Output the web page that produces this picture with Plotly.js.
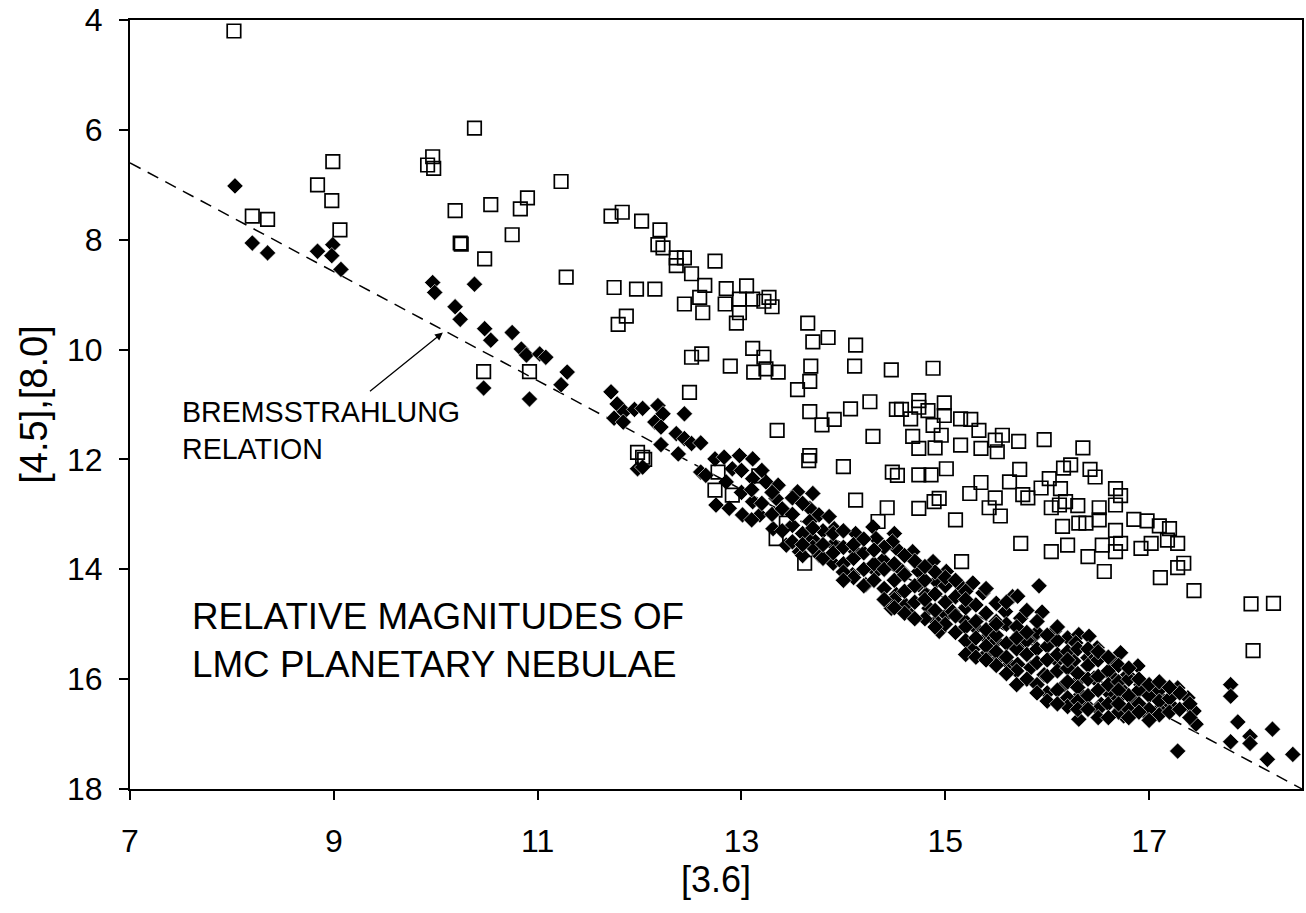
<!DOCTYPE html>
<html>
<head>
<meta charset="utf-8">
<script src="https://cdn.plot.ly/plotly-3.0.1.min.js"></script>
<style>html,body{margin:0;padding:0;background:#fff;}#chart{width:1306px;height:913px;}</style>
</head>
<body>
<div id="chart"></div>
<script>
// Open squares
const sqX = [8.02,8.99,8.84,8.98,8.2,8.35,9.06,10.38,9.97,9.92,9.98,11.23,10.19,10.54,10.83,10.9,10.75,10.24,10.25,10.48,11.28,11.72,11.83,12.02,12.2,12.18,12.23,12.36,12.44,12.36,12.51,12.74,11.75,11.97,12.15,11.87,11.79,12.64,12.59,12.44,12.62,12.51,12.61,12.49,10.47,10.92,11.98,12.03,12.05,12.74,12.77,12.85,13.05,12.84,12.98,12.98,12.95,13.11,13.22,13.27,13.3,13.65,13.7,13.85,14.12,13.11,13.22,12.89,13.12,13.24,13.36,13.68,13.67,13.55,14.11,14.47,14.88,13.67,13.79,13.91,14.07,14.26,13.35,14.29,13.67,13.66,14.0,14.48,14.53,14.52,14.57,14.66,14.74,14.74,14.83,14.88,14.99,14.99,14.68,14.74,14.9,14.96,15.15,15.15,15.25,15.33,15.35,15.49,15.51,15.56,14.74,14.86,15.01,15.24,15.35,15.63,14.89,14.94,14.74,14.43,14.34,14.12,15.1,15.43,15.49,15.54,13.44,12.91,13.17,15.72,15.97,16.35,15.73,16.23,16.16,16.42,16.47,16.02,15.94,16.13,16.67,16.72,15.76,15.81,16.04,16.12,16.18,16.3,16.51,16.67,16.51,16.38,16.31,16.15,16.67,16.85,16.98,17.1,17.2,15.74,16.04,16.2,16.4,16.56,16.54,16.67,16.72,16.92,17.02,17.18,17.28,17.11,17.28,17.34,17.44,18.0,18.22,18.02,15.16,13.62,13.34];
const sqY = [4.2,6.58,7.0,7.29,7.57,7.63,7.82,5.97,6.49,6.64,6.7,6.94,7.47,7.36,7.44,7.24,7.91,8.06,8.08,8.35,8.68,7.57,7.5,7.66,7.82,8.09,8.15,8.33,8.33,8.47,8.62,8.39,8.87,8.9,8.9,9.39,9.54,8.83,9.05,9.17,9.33,10.14,10.08,10.78,10.4,10.4,11.87,11.96,12.0,12.56,12.23,8.89,8.84,9.17,9.08,9.33,9.52,9.08,9.12,9.05,9.22,9.52,9.86,9.78,9.92,9.98,10.14,10.3,10.41,10.35,10.41,10.3,10.58,10.73,10.3,10.37,10.34,11.13,11.37,11.27,11.08,10.95,11.47,11.58,11.93,12.02,12.13,12.23,12.29,11.09,11.09,11.26,10.93,11.05,11.11,11.38,10.97,11.2,11.58,11.8,11.79,11.56,11.74,11.26,11.27,11.47,11.8,11.65,11.86,11.56,12.28,12.28,12.17,12.62,12.42,12.41,12.77,12.71,12.89,12.88,13.13,12.74,13.1,12.88,12.7,13.03,13.16,12.65,12.3,11.67,11.64,11.79,12.18,12.1,12.16,12.18,12.32,12.35,12.52,12.53,12.53,12.66,12.64,12.7,12.88,12.83,12.77,12.84,12.88,12.83,13.1,13.16,13.16,13.22,13.29,13.09,13.12,13.21,13.26,13.53,13.68,13.56,13.77,14.04,13.56,13.68,13.53,13.62,13.53,13.47,13.53,14.15,13.97,13.89,14.39,14.63,14.62,15.48,13.86,13.89,13.44];

// Filled diamonds
const dmX = [8.03,8.2,8.35,8.84,8.99,8.98,9.07,9.97,9.99,10.38,10.19,10.24,10.48,10.54,10.75,10.84,10.89,11.02,11.08,11.29,11.23,10.47,10.92,11.72,11.78,11.85,11.75,11.84,11.95,12.03,12.18,12.23,12.44,12.15,12.21,12.21,12.38,12.36,12.44,12.51,12.6,11.98,12.03,12.6,12.65,12.74,12.75,12.83,12.98,13.11,12.91,12.85,13.11,13.24,13.36,13.55,13.7,13.34,13.11,12.88,13.01,13.18,13.31,13.67,13.76,13.86,13.67,13.91,14.29,14.12,14.5,
13.44,13.57,13.76,13.9,14.09,14.22,14.32,14.39,14.12,14.32,14.52,14.68,14.48,14.52,14.47,14.66,14.61,14.74,14.88,15.01,14.91,14.74,14.84,14.94,14.91,15.01,15.17,15.27,15.37,15.2,15.3,15.5,15.59,15.66,15.27,15.4,15.53,15.63,15.4,15.5,15.07,14.81,14.58,
15.92,15.71,15.95,15.74,15.74,15.87,16.07,16.2,16.31,16.41,16.49,16.28,15.73,15.71,15.84,15.97,16.1,16.26,16.4,16.53,16.66,16.72,16.79,16.89,16.62,16.46,16.3,16.17,16.2,16.33,16.38,16.53,16.62,16.75,16.72,16.75,16.85,16.92,17.02,16.98,17.08,17.11,17.21,17.28,17.38,17.44,17.46,16.31,17.28,17.8,17.8,17.87,17.8,17.99,17.99,18.21,18.16,18.41,
13.5,13.5,13.6,13.6,13.7,13.7,13.8,13.8,13.9,13.9,14.0,14.0,14.0,14.1,14.1,14.2,14.2,14.2,14.3,14.3,14.4,14.4,14.4,14.5,14.5,14.5,14.6,14.6,14.6,14.7,14.7,14.7,14.8,14.8,14.8,14.9,14.9,14.9,15.0,15.0,15.0,15.1,15.1,15.1,15.2,15.2,15.2,15.2,15.3,15.3,15.3,15.4,15.4,15.4,15.5,15.5,15.5,15.5,15.6,15.6,15.6,15.7,15.7,15.7,15.8,15.8,15.8,15.9,15.9,15.9,15.9,16.0,16.0,16.0,16.0,16.1,16.1,16.1,16.1,16.2,16.2,16.2,16.2,16.3,16.3,16.3,16.3,16.4,16.4,16.4,16.5,16.5,16.5,16.5,16.6,16.6,16.6,16.7,16.7,16.7,16.7,16.8,16.8,16.8,16.9,16.9,17.0,17.0,17.1,17.1,17.1,17.2,17.2,17.3,17.3,17.4,17.4,
13.0,13.0,13.1,13.1,13.2,13.2,13.3,13.3,13.4,13.4,13.5,13.5,13.6,13.6,13.7,13.8,13.9,14.0,14.0,14.1,14.2,14.3,14.4,14.5,14.6,14.7,14.8,14.9,15.0,15.1,15.2,15.2,15.3,15.4,15.4,15.5,15.6,15.6,15.7,15.7,15.8,15.8,15.9,15.9,16.0,16.0,16.1,16.1,16.2,16.3,16.4,16.4,16.5,16.5,16.6,16.6,16.7,16.7,16.8,16.8,16.9,16.9,17.0,17.0,17.1,17.2];
const dmY = [7.02,8.06,8.24,8.21,8.09,8.29,8.54,8.78,8.96,8.81,9.22,9.45,9.62,9.83,9.69,9.99,10.1,10.08,10.14,10.41,10.64,10.7,10.9,10.77,10.99,11.13,11.25,11.32,11.09,11.07,11.02,11.17,11.17,11.32,11.41,11.73,11.9,11.53,11.62,11.71,11.7,12.17,12.14,12.23,12.29,11.99,12.83,11.96,11.93,11.99,12.17,12.41,12.35,12.41,12.47,12.59,12.62,12.71,12.77,12.89,13.01,13.01,13.26,12.89,13.01,13.04,13.13,13.26,13.23,13.35,13.35,
13.56,13.68,13.74,13.89,14.1,14.28,14.04,13.83,13.68,13.44,13.62,13.68,13.5,14.46,14.71,14.83,14.65,14.04,13.86,14.04,14.22,14.28,14.71,15.13,14.95,14.83,14.34,14.25,14.43,14.95,15.07,14.62,14.77,14.5,15.46,15.55,15.61,15.73,15.25,15.31,14.77,14.46,14.04,
14.3,14.49,14.78,14.89,15.19,15.22,15.13,15.25,15.19,15.22,15.43,15.34,15.37,15.73,15.79,15.92,15.67,15.67,15.61,15.55,15.7,15.52,15.92,15.76,15.92,15.98,16.04,16.1,16.34,16.28,16.46,16.46,16.28,16.22,16.55,16.67,16.4,16.1,16.16,16.64,16.28,16.52,16.46,16.16,16.34,16.58,16.82,16.73,17.31,16.1,16.31,16.78,17.14,17.04,17.17,16.91,17.46,17.37,
13.2,13.5,13.35,13.75,13.45,13.6,13.3,13.8,13.55,13.7,13.6,13.9,14.05,13.8,14.15,13.7,14.0,14.3,13.9,14.2,13.6,14.0,14.35,13.9,14.2,14.55,14.1,14.4,14.8,13.85,14.3,14.6,14.2,14.55,14.9,14.05,14.45,14.75,14.3,14.6,15.0,14.5,14.85,15.15,14.4,14.7,15.05,15.3,14.65,14.95,15.25,14.8,15.1,15.4,14.95,15.2,15.5,15.75,15.0,15.35,15.6,15.05,15.45,15.85,15.3,15.55,16.0,15.15,15.45,15.7,16.1,15.4,15.65,15.95,16.25,15.3,15.55,15.85,16.2,15.5,15.8,16.05,16.5,15.45,15.9,16.15,16.4,15.75,16.0,16.3,15.65,15.95,16.2,16.55,15.85,16.1,16.45,15.75,16.05,16.35,16.6,16.0,16.3,16.55,16.2,16.45,16.3,16.55,16.2,16.4,16.65,16.35,16.6,16.25,16.55,16.45,16.7,
12.2,12.6,12.55,13.1,12.2,12.8,12.6,13.0,12.9,13.3,12.7,13.0,12.8,13.55,13.25,13.55,13.35,13.3,14.2,13.55,13.45,13.65,14.55,14.7,13.75,14.9,13.95,15.05,14.15,14.2,14.55,15.55,15.6,14.35,15.65,15.0,14.6,15.9,15.25,16.1,14.75,15.15,14.95,16.25,15.2,16.4,15.05,16.45,15.65,16.55,15.45,16.55,15.5,16.7,15.6,16.7,16.2,16.45,15.8,16.7,16.6,16.0,16.1,16.75,16.05,16.15];

// Bremsstrahlung relation line
const lineX = [7, 18.5];
const lineY = [6.6, 18.0];

const xTicks = [7, 9, 11, 13, 15, 17];
const yTicks = [4, 6, 8, 10, 12, 14, 16, 18];

const font = "Liberation Sans, Arial, sans-serif";

const traces = [
  {x: lineX, y: lineY, mode: 'lines', type: 'scatter', hoverinfo: 'skip',
   line: {color: '#000', width: 1.5, dash: '12px,8px'}},
  {x: dmX, y: dmY, mode: 'markers', type: 'scatter',
   marker: {symbol: 'diamond', size: 12.5, color: '#000', line: {color: '#fff', width: 0.6}}},
  {x: sqX, y: sqY, mode: 'markers', type: 'scatter',
   marker: {symbol: 'square-open', size: 13.5, color: '#000', line: {color: '#000', width: 1.7}}}
];

const layout = {
  width: 1306, height: 913,
  margin: {l: 130, r: 4, t: 20, b: 124},
  paper_bgcolor: '#fff', plot_bgcolor: '#fff',
  showlegend: false,
  font: {family: font, color: '#000', size: 32},
  xaxis: {
    range: [7, 18.5], tickvals: xTicks, ticktext: xTicks.map(String),
    showgrid: false, zeroline: false, showline: true, mirror: true,
    linecolor: '#000', linewidth: 2, ticks: 'outside', ticklen: 9, tickwidth: 2, tickcolor: '#000',
    ticklabelstandoff: 14,
    tickfont: {family: font, size: 32, color: '#000'},
    title: {text: '[3.6]', font: {family: font, size: 36, color: '#000'}, standoff: 0}
  },
  yaxis: {
    range: [18, 4], tickvals: yTicks, ticktext: yTicks.map(String),
    showgrid: false, zeroline: false, showline: true, mirror: true,
    linecolor: '#000', linewidth: 2, ticks: 'outside', ticklen: 9, tickwidth: 2, tickcolor: '#000',
    ticklabelstandoff: 10,
    tickfont: {family: font, size: 32, color: '#000'},
    title: {text: '[4.5],[8.0]', font: {family: font, size: 38, color: '#000'}, standoff: 8}
  },
  annotations: [
    {x: 10.07, y: 9.69, ax: 9.34, ay: 10.78, axref: 'x', ayref: 'y', xref: 'x', yref: 'y',
     text: '', showarrow: true, arrowhead: 2, arrowsize: 1.2, arrowwidth: 1.3, arrowcolor: '#000'},
    {x: 7.49, y: 10.8, xref: 'x', yref: 'y', xanchor: 'left', yanchor: 'top', align: 'left',
     text: 'BREMSSTRAHLUNG<br>RELATION', showarrow: false,
     font: {family: font, size: 28.6, color: '#000'}},
    {x: 7.59, y: 14.45, xref: 'x', yref: 'y', xanchor: 'left', yanchor: 'top', align: 'left',
     text: 'RELATIVE MAGNITUDES OF<br>LMC PLANETARY NEBULAE', showarrow: false,
     font: {family: font, size: 36.8, color: '#000'}}
  ]
};

Plotly.newPlot('chart', traces, layout, {staticPlot: true, displayModeBar: false});
</script>
</body>
</html>
